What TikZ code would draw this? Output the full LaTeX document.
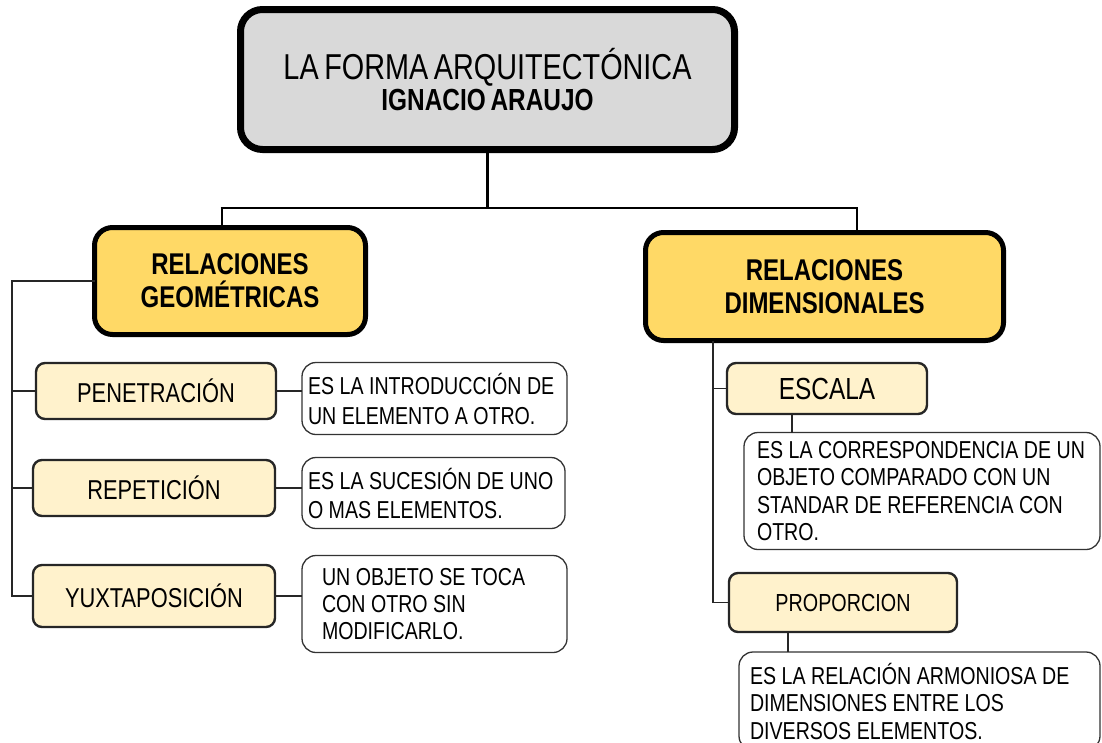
\documentclass[tikz,border=0pt]{standalone}
\usepackage{fontspec}
\setmainfont{Liberation Sans}
\newfontfamily\nar[FakeStretch=0.8,WordSpace=0.7]{Liberation Sans}
\definecolor{topgray}{HTML}{D9D9D9}
\definecolor{gold}{HTML}{FFD966}
\definecolor{lightgold}{HTML}{FFF2CC}
\tikzset{
  box/.style={draw=black, inner sep=0pt, outer sep=0pt},
  topbox/.style={box, fill=topgray, line width=7pt, rounded corners=22pt, align=center},
  relbox/.style={box, fill=gold, line width=5pt, rounded corners=18pt, align=center,
    font=\nar\bfseries\fontsize{30}{33}\selectfont},
  subbox/.style={box, draw=black!85, fill=lightgold, line width=2.4pt, rounded corners=9pt, align=center},
  descbox/.style={box, draw=black!80, fill=white, line width=1.3pt, rounded corners=14pt, align=left,
    font=\nar\fontsize{24.5}{28}\selectfont,
    execute at begin node={\spaceskip=5.5pt plus 1pt minus 1pt\relax}},
  thin/.style={draw=black!85, line width=1.3pt},
  bus/.style={draw=black, line width=2.8pt},
}
\begin{document}
\begin{tikzpicture}[x=1pt,y=-1pt]
\useasboundingbox (0,0) rectangle (1102,742);
% title
\node[topbox, minimum width=494pt, minimum height=140pt] (top) at (487.5,79.5)
  {{\nar\fontsize{36}{26}\selectfont LA FORMA ARQUITECTÓNICA}\\[1pt]
   {\nar\bfseries\fontsize{30.5}{26}\selectfont IGNACIO ARAUJO}};
% main relations
\node[relbox, minimum width=271pt, minimum height=107pt] (geo) at (230,281)
  {RELACIONES\\GEOMÉTRICAS};
\node[relbox, minimum width=358pt, minimum height=108pt] (dim) at (824.5,286.5)
  {RELACIONES\\DIMENSIONALES};
% left sub boxes
\node[subbox, minimum width=240pt, minimum height=56pt, font=\nar\fontsize{27.3}{30}\selectfont] (pen) at (156,391) {PENETRACIÓN};
\node[subbox, minimum width=242pt, minimum height=56pt, font=\nar\fontsize{27.3}{30}\selectfont] (rep) at (154,488) {REPETICIÓN};
\node[subbox, minimum width=242pt, minimum height=62pt, font=\nar\fontsize{27.3}{30}\selectfont] (yux) at (154,596) {YUXTAPOSICIÓN};
% left descriptions
\node[descbox, text width=253pt, inner xsep=6pt, minimum height=72pt, font=\nar\fontsize{24.5}{30}\selectfont] (pend) at (434.5,398.5)
  {\mbox{ES LA INTRODUCCIÓN DE}\\\mbox{UN ELEMENTO A OTRO.}};
\node[descbox, text width=251pt, inner xsep=6pt, minimum height=71pt, font=\nar\fontsize{24.5}{29}\selectfont] (repd) at (433.5,493)
  {\mbox{ES LA SUCESIÓN DE UNO}\\\mbox{O MAS ELEMENTOS.}};
\node[descbox, text width=225pt, inner xsep=20pt, minimum height=97pt, font=\nar\fontsize{24.5}{27}\selectfont] (yuxd) at (434.5,604)
  {\mbox{UN OBJETO SE TOCA}\\\mbox{CON OTRO SIN}\\\mbox{MODIFICARLO.}};
% right sub boxes
\node[subbox, minimum width=200pt, minimum height=51pt, font=\nar\fontsize{30.5}{30}\selectfont] (esc) at (827,388.5) {ESCALA};
\node[subbox, minimum width=228pt, minimum height=59pt, font=\nar\fontsize{24.7}{30}\selectfont] (prop) at (843,602.5) {PROPORCION};
% right descriptions
\node[descbox, text width=330pt, inner xsep=13pt, minimum height=117pt, font=\nar\fontsize{24.5}{27.5}\selectfont] (escd) at (922,491)
  {\mbox{ES LA CORRESPONDENCIA DE UN}\\\mbox{OBJETO COMPARADO CON UN}\\\mbox{STANDAR DE REFERENCIA CON}\\\mbox{OTRO.}};
\node[descbox, text width=339pt, inner xsep=11pt, minimum height=98pt, font=\nar\fontsize{24.5}{27.5}\selectfont] (propd) at (919.5,701)
  {\mbox{ES LA RELACIÓN ARMONIOSA DE}\\\mbox{DIMENSIONES ENTRE LOS}\\\mbox{DIVERSOS ELEMENTOS.}};
% helper coordinates
\coordinate (bl) at (222,208);
\coordinate (br) at (857,208);
\coordinate (lt) at (12,0);
\coordinate (rt) at (713,0);
\coordinate (ec) at (792,0);
\coordinate (pc) at (788,0);
% top bus
\draw[bus, line width=2.5pt] (top.south) -- (top.south |- bl);
\draw[bus] ([xshift=-1.4pt]bl) -- ([xshift=1.4pt]br);
\draw[bus, line width=2.5pt] (bl) -- (bl |- geo.north);
\draw[bus, line width=2.5pt] (br) -- (br |- dim.north);
% left trunk
\draw[thin] (geo.west) -- (geo.west -| lt) -- (yux.west -| lt) -- (yux.west);
\draw[thin] (pen.west -| lt) -- (pen.west);
\draw[thin] (rep.west -| lt) -- (rep.west);
\draw[thin] (pen.east) -- (pen.east -| pend.west);
\draw[thin] (rep.east) -- (rep.east -| repd.west);
\draw[thin] (yux.east) -- (yux.east -| yuxd.west);
% right trunk
\draw[thin] (dim.south -| rt) -- (prop.west -| rt) -- (prop.west);
\draw[thin] (esc.west -| rt) -- (esc.west);
\draw[thin] (esc.south -| ec) -- (escd.north -| ec);
\draw[thin] (prop.south -| pc) -- (propd.north -| pc);
\end{tikzpicture}
\end{document}
